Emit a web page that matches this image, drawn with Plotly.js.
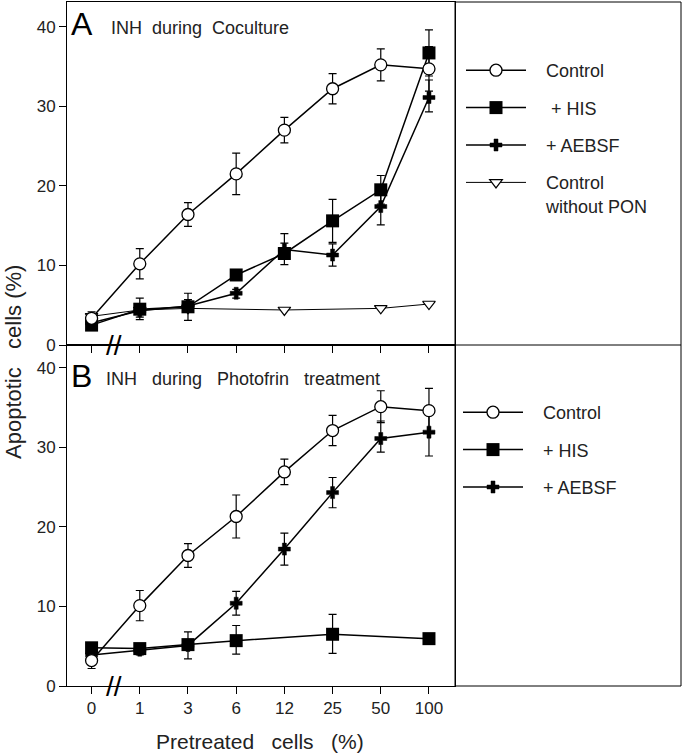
<!DOCTYPE html>
<html>
<head>
<meta charset="utf-8">
<script src="https://cdn.plot.ly/plotly-3.0.1.min.js"></script>
<style>html,body{margin:0;padding:0;background:#fff;}#chart{width:683px;height:754px;}</style>
</head>
<body>
<div id="chart"></div>
<script>
// Categories (x axis)
const categories = ['0', '1', '3', '6', '12', '25', '50', '100'];

// Panel A: INH during Coculture
const ctrlA      = [3.35, 10.2, 16.4, 21.5, 27.0, 32.2, 35.2, 34.7];
const ctrlAErr   = [0.8, 1.9, 1.5, 2.6, 1.6, 1.9, 2.0, 2.8];
const hisA       = [2.5, 4.5, 4.8, 8.8, 11.5, 15.6, 19.5, 36.7];
const hisAErrUp  = [0.5, 1.4, 1.7, 0.5, 2.5, 2.7, 1.8, 2.9];
const hisAErrDn  = [0.5, 1.3, 1.7, 0.5, 1.4, 2.7, 1.8, 2.9];
const aebA       = [2.8, 4.3, 4.9, 6.5, 12.0, 11.3, 17.4, 31.1];
const aebAErrUp  = [0.5, 0.8, 0.8, 0.5, 0.8, 1.4, 2.3, 2.2];
const aebAErrDn  = [0.5, 0.8, 0.8, 0.6, 0.8, 1.4, 2.3, 1.8];
const ponA       = [3.6, 4.4, 4.6, null, 4.4, null, 4.6, 5.15];

// Panel B: INH during Photofrin treatment
const ctrlB      = [3.2, 10.1, 16.4, 21.3, 26.9, 32.1, 35.1, 34.6];
const ctrlBErr   = [1.0, 1.9, 1.5, 2.7, 1.6, 1.9, 2.0, 2.8];
const hisB       = [4.8, 4.7, 5.2, 5.7, null, 6.5, null, 5.95];
const hisBErrUp  = [0.5, 0.5, 0.5, 1.9, 0, 2.5, 0, 0.5];
const hisBErrDn  = [0.5, 0.5, 0.5, 1.7, 0, 2.4, 0, 0.5];
const aebB       = [3.9, 4.5, 5.1, 10.4, 17.2, 24.3, 31.1, 31.9];
const aebBErrUp  = [0.5, 0.6, 1.7, 1.5, 2.0, 1.9, 2.2, 3.0];
const aebBErrDn  = [0.5, 0.6, 1.7, 1.5, 2.0, 1.9, 1.7, 3.0];

// Labels
const SP = '\u00a0\u00a0\u00a0';
const legendLabels = [SP + 'Control', SP + '\u00a0+ HIS', SP + '+ AEBSF', SP + 'Control<br>' + SP + 'without PON'];
const legendLabelsB = [SP + 'Control', SP + '+ HIS', SP + '+ AEBSF'];
const yTickVals = [0, 10, 20, 30, 40];

const FONT = '"Liberation Sans", Arial, Helvetica, sans-serif';
const BLACK = '#000';

function err(up, dn) {
  return {type: 'data', symmetric: false, array: up, arrayminus: dn,
          color: BLACK, thickness: 1.2, width: 4};
}
function symErr(v) { return err(v, v); }

const circleStyle = {symbol: 'circle', size: 12, color: '#fff', line: {color: BLACK, width: 1.3}};
const squareStyle = {symbol: 'square', size: 13, color: BLACK, line: {color: BLACK, width: 0}};
const crossStyle  = {symbol: 'cross', size: 10, color: BLACK, line: {color: BLACK, width: 0.5}};
const triStyle    = {symbol: 'triangle-down', size: 11, color: '#fff', line: {color: BLACK, width: 1.2}};

const traces = [
  // Panel A
  {x: categories, y: ponA, xaxis: 'x', yaxis: 'y', mode: 'lines+markers', connectgaps: true,
   name: legendLabels[3], legend: 'legend', legendrank: 4, legendgroup: 'a4',
   line: {color: BLACK, width: 1}, marker: triStyle},
  {x: categories, y: aebA, xaxis: 'x', yaxis: 'y', mode: 'lines+markers',
   name: legendLabels[2], legend: 'legend', legendrank: 3, legendgroup: 'a3',
   error_y: err(aebAErrUp, aebAErrDn), line: {color: BLACK, width: 1.5}, marker: crossStyle},
  {x: categories, y: hisA, xaxis: 'x', yaxis: 'y', mode: 'lines+markers',
   name: legendLabels[1], legend: 'legend', legendrank: 2, legendgroup: 'a2',
   error_y: err(hisAErrUp, hisAErrDn), line: {color: BLACK, width: 1.5}, marker: squareStyle},
  {x: categories, y: ctrlA, xaxis: 'x', yaxis: 'y', mode: 'lines+markers',
   name: legendLabels[0], legend: 'legend', legendrank: 1, legendgroup: 'a1',
   error_y: symErr(ctrlAErr), line: {color: BLACK, width: 1.5}, marker: circleStyle},
  // Panel B
  {x: categories, y: hisB, xaxis: 'x2', yaxis: 'y2', mode: 'lines+markers', connectgaps: true,
   name: legendLabelsB[1], legend: 'legend2', legendrank: 2, legendgroup: 'b2',
   error_y: err(hisBErrUp, hisBErrDn), line: {color: BLACK, width: 1.5}, marker: squareStyle},
  {x: categories, y: aebB, xaxis: 'x2', yaxis: 'y2', mode: 'lines+markers',
   name: legendLabelsB[2], legend: 'legend2', legendrank: 3, legendgroup: 'b3',
   error_y: err(aebBErrUp, aebBErrDn), line: {color: BLACK, width: 1.5}, marker: crossStyle},
  {x: categories, y: ctrlB, xaxis: 'x2', yaxis: 'y2', mode: 'lines+markers',
   name: legendLabelsB[0], legend: 'legend2', legendrank: 1, legendgroup: 'b1',
   error_y: symErr(ctrlBErr), line: {color: BLACK, width: 1.5}, marker: circleStyle}
];

const W = 683, H = 754;
const mL = 67, mR = 2, mT = 2, mB = 68;
const pw = W - mL - mR, ph = H - mT - mB;
const px = v => (v - mL) / pw;           // pixel x -> paper x
const py = v => 1 - (v - mT) / ph;       // pixel y -> paper y
const xRight = px(455);
const yMid = py(345);

const axCommon = {
  showline: true, mirror: true, linecolor: BLACK, linewidth: 1,
  ticks: 'outside', ticklen: 7, tickwidth: 1, tickcolor: BLACK,
  showgrid: false, zeroline: false, fixedrange: true,
  tickfont: {family: FONT, size: 17, color: '#222'}
};

const legendCommon = {
  font: {family: FONT, size: 18, color: '#222'},
  bgcolor: 'rgba(0,0,0,0)', borderwidth: 0,
  itemwidth: 60, valign: 'top', traceorder: 'grouped', tracegroupgap: 11,
  xanchor: 'left', yanchor: 'top', itemclick: false, itemdoubleclick: false
};

const layout = {
  width: W, height: H,
  margin: {l: mL, r: mR, t: mT, b: mB, pad: 0},
  paper_bgcolor: '#fff', plot_bgcolor: 'rgba(0,0,0,0)',
  font: {family: FONT, color: '#222'},
  showlegend: true,
  xaxis: Object.assign({}, axCommon, {domain: [0, xRight], anchor: 'y', type: 'category',
    range: [-0.51, 7.54], tickvals: categories, showticklabels: false}),
  yaxis: Object.assign({}, axCommon, {domain: [yMid, 1], anchor: 'x',
    range: [0, 43.1], tickvals: yTickVals}),
  xaxis2: Object.assign({}, axCommon, {domain: [0, xRight], anchor: 'y2', type: 'category',
    range: [-0.51, 7.54], tickvals: categories, ticktext: categories}),
  yaxis2: Object.assign({}, axCommon, {domain: [0, yMid], anchor: 'x2',
    range: [0, 42.85], tickvals: yTickVals}),
  legend: Object.assign({}, legendCommon, {x: px(461), y: py(52)}),
  legend2: Object.assign({}, legendCommon, {x: px(458), y: py(394)}),
  shapes: [
    {type: 'rect', xref: 'paper', yref: 'paper', x0: xRight, x1: 1, y0: 0, y1: 1,
     line: {color: BLACK, width: 1}},
    {type: 'line', xref: 'paper', yref: 'paper', x0: xRight, x1: 1, y0: yMid, y1: yMid,
     line: {color: BLACK, width: 1}}
  ],
  annotations: [
    {text: 'A', xref: 'paper', yref: 'paper', x: px(69), y: py(24), xanchor: 'left', yanchor: 'middle',
     showarrow: false, font: {family: FONT, size: 32, color: BLACK}},
    {text: 'INH\u00a0 during\u00a0 Coculture', xref: 'paper', yref: 'paper', x: px(109), y: py(28),
     xanchor: 'left', yanchor: 'middle', showarrow: false, font: {family: FONT, size: 18, color: '#222'}},
    {text: 'B', xref: 'paper', yref: 'paper', x: px(69), y: py(376), xanchor: 'left', yanchor: 'middle',
     showarrow: false, font: {family: FONT, size: 32, color: BLACK}},
    {text: 'INH\u00a0\u00a0 during\u00a0\u00a0 Photofrin\u00a0\u00a0 treatment', xref: 'paper', yref: 'paper', x: px(104), y: py(379),
     xanchor: 'left', yanchor: 'middle', showarrow: false, font: {family: FONT, size: 18, color: '#222'}},
    {text: 'Apoptotic\u00a0\u00a0 cells (%)', xref: 'paper', yref: 'paper', x: px(13), y: py(362),
     xanchor: 'center', yanchor: 'middle', textangle: -90, showarrow: false,
     font: {family: FONT, size: 22, color: '#222'}},
    {text: 'Pretreated\u00a0\u00a0 cells\u00a0\u00a0 (%)', xref: 'paper', yref: 'paper', x: px(260), y: py(741),
     xanchor: 'center', yanchor: 'middle', showarrow: false,
     font: {family: FONT, size: 21, color: '#222'}},
    {text: '//', xref: 'x', yref: 'y', x: 0.46, y: 0, xanchor: 'center', yanchor: 'middle',
     showarrow: false, font: {family: FONT, size: 28, color: BLACK}},
    {text: '//', xref: 'x2', yref: 'y2', x: 0.46, y: 0, xanchor: 'center', yanchor: 'middle',
     showarrow: false, font: {family: FONT, size: 28, color: BLACK}}
  ]
};

Plotly.newPlot('chart', traces, layout, {staticPlot: true, displayModeBar: false});
</script>
</body>
</html>
